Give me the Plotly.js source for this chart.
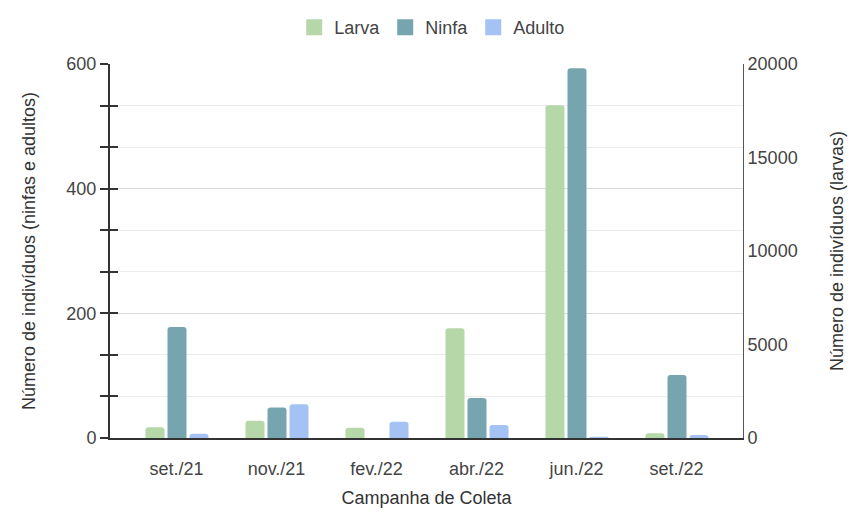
<!DOCTYPE html>
<html>
<head>
<meta charset="utf-8">
<script src="https://cdn.plot.ly/plotly-3.0.1.min.js"></script>
<style>
  html, body { margin: 0; padding: 0; background: #fff; }
  #myDiv { width: 866px; height: 525px; }
</style>
</head>
<body>
<div id="myDiv"></div>
<script>
// campanhas de coleta
const campanhas = ["set./21", "nov./21", "fev./22", "abr./22", "jun./22", "set./22"]

// larvas no eixo da direita, ninfas e adultos no da esquerda
const larva = [570, 925, 550, 5870, 17800, 250]
const ninfa = [178, 49, 0, 64, 593, 101]
const adulto = [7, 54, 26, 21, 2, 5]

const ticksEsq = [0, 200, 400, 600]
const ticksDir = [0, 5000, 10000, 15000, 20000]

const nomes = ["Larva", "Ninfa", "Adulto"]
const cores = ["#b6d7a8", "#76a5af", "#a4c2f4"]

const fonte = "Liberation Sans, Arial, sans-serif"
const larg = 0.19

function barra(y, i, eixo, offset) {
  return {
    x: campanhas,
    y: y,
    type: "bar",
    name: nomes[i],
    yaxis: eixo,
    width: larg,
    offset: offset,
    marker: { color: cores[i], cornerradius: 3 },
    showlegend: false,
    hoverinfo: "skip",
  }
}

// entradas de legenda com quadrado maior que o da barra
function legenda(i) {
  return {
    x: [null],
    y: [null],
    type: "scatter",
    mode: "markers",
    name: nomes[i],
    marker: { symbol: "square", size: 16, color: cores[i] },
    hoverinfo: "skip",
  }
}

const data = [
  barra(larva, 0, "y2", -0.31),
  barra(ninfa, 1, "y", -0.09),
  barra(adulto, 2, "y3", 0.13),
  legenda(0),
  legenda(1),
  legenda(2),
]

const corGrade = "#d9d9d9"
const corGradeMenor = "#ececec"

const layout = {
  width: 866,
  height: 525,
  margin: { l: 110, r: 123, t: 64, b: 87, autoexpand: false },
  font: { family: fonte, size: 18, color: "#444" },
  barmode: "group",
  legend: {
    orientation: "h",
    x: 0.509,
    xanchor: "center",
    y: 1.147,
    yanchor: "top",
    font: { size: 18, color: "#444" },
  },
  xaxis: {
    type: "category",
    range: [-0.665, 5.665],
    showline: true,
    linecolor: "#333",
    linewidth: 2,
    ticks: "",
    ticklabelstandoff: 13,
    showgrid: false,
    zeroline: false,
    title: { text: "Campanha de Coleta", standoff: 14, font: { size: 18, color: "#333" } },
  },
  yaxis: {
    range: [0, 600],
    tickvals: ticksEsq,
    ticks: "outside",
    ticklen: 8,
    tickwidth: 2,
    tickcolor: "#333",
    showline: true,
    linecolor: "#333",
    linewidth: 2,
    gridcolor: corGrade,
    zeroline: false,
    minor: {
      dtick: 200 / 3,
      ticks: "outside",
      ticklen: 8,
      tickwidth: 2,
      tickcolor: "#333",
      showgrid: true,
      gridcolor: corGradeMenor,
    },
    title: { text: "Número de indivíduos (ninfas e adultos)", standoff: 26, font: { size: 18, color: "#333" } },
  },
  yaxis2: {
    range: [0, 20000],
    tickvals: ticksDir,
    tickformat: "d",
    overlaying: "y",
    side: "right",
    ticks: "",
    showline: true,
    linecolor: "#555",
    showgrid: false,
    zeroline: false,
    title: { text: "Número de indivíduos (larvas)", standoff: 33, font: { size: 18, color: "#333" } },
  },
  // mesma escala da esquerda; os tracinhos para dentro cruzam a linha
  yaxis3: {
    range: [0, 600],
    overlaying: "y",
    side: "left",
    tickvals: ticksEsq,
    ticks: "inside",
    ticklen: 8,
    tickwidth: 2,
    tickcolor: "#333",
    showticklabels: false,
    showgrid: true,
    gridcolor: corGrade,
    zeroline: false,
    showline: false,
    minor: {
      dtick: 200 / 3,
      ticks: "inside",
      ticklen: 8,
      tickwidth: 2,
      tickcolor: "#333",
      showgrid: true,
      gridcolor: corGradeMenor,
    },
  },
}

Plotly.newPlot("myDiv", data, layout, { displayModeBar: false, staticPlot: true })
</script>
</body>
</html>
